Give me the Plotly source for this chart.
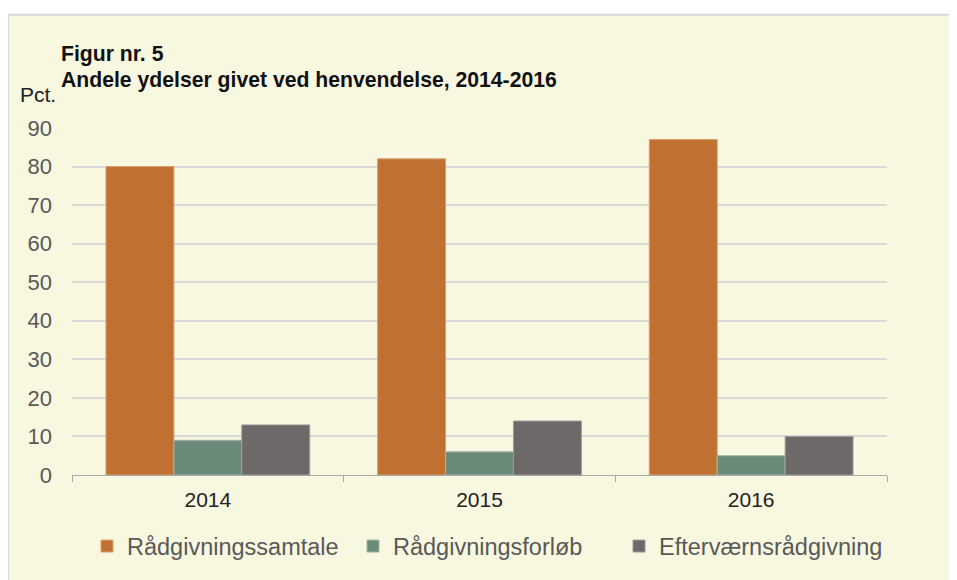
import plotly.graph_objects as go

years = ["2014", "2015", "2016"]
series_names = ["Rådgivningssamtale", "Rådgivningsforløb", "Efterværnsrådgivning"]
samtale = [80, 82, 87]
forloeb = [9, 6, 5]
eftervaern = [13, 14, 10]
y_ticks = [0, 10, 20, 30, 40, 50, 60, 70, 80, 90]

colors = ["#C07030", "#6B8A78", "#6D6969"]
edge = ["#D9A070", "#A0B4A8", "#A09C9C"]

OFF = 8  # page body margin
SW, SH = 957, 580
W, H = SW - OFF, SH - OFF
# plot area in screen pixels
PX0, PX1, PY0, PY1 = 72, 887, 127.5, 478
L, R, T, B = PX0 - OFF, SW - PX1, PY0 - OFF, SH - PY1
pw, ph = PX1 - PX0, PY1 - PY0

def px_x(x):
    return (x - PX0) / pw

def px_y(y):
    return (PY1 - y) / ph

fig = go.Figure()
for name, vals, c, e in zip(series_names, [samtale, forloeb, eftervaern], colors, edge):
    fig.add_trace(go.Bar(x=years, y=vals, name=name,
                         marker=dict(color=c, line=dict(color=e, width=1))))

fig.update_layout(
    width=W, height=H,
    margin=dict(l=L, r=R, t=T, b=B),
    paper_bgcolor="white",
    plot_bgcolor="rgba(0,0,0,0)",
    barmode="group", bargap=0.25, bargroupgap=0,
    font=dict(family="Liberation Sans, Arial, sans-serif", color="#595959"),
    showlegend=True,
    legend=dict(orientation="h", x=px_x(486), xanchor="center", y=px_y(550), yanchor="middle",
                font=dict(size=23.5, color="#595959"), bgcolor="rgba(0,0,0,0)",
                itemwidth=30, traceorder="normal", entrywidth=221, entrywidthmode="pixels"),
    xaxis=dict(type="category", tickson="boundaries", ticks="outside", ticklen=6,
               tickcolor="#A6A6A6", showline=True, linecolor="#A6A6A6", linewidth=1,
               tickfont=dict(size=21, color="#222222"), showgrid=False,
               ticklabelstandoff=6),
    yaxis=dict(range=[0, 90], tickvals=y_ticks, showgrid=True, gridcolor="#D9D9D9",
               gridwidth=1.5, zeroline=False, showline=False, ticks="",
               tickfont=dict(size=22, color="#595959"), ticklabelstandoff=19),
    shapes=[dict(type="rect", xref="paper", yref="paper", layer="below",
                 x0=px_x(8), x1=px_x(1000), y0=px_y(620), y1=px_y(13),
                 fillcolor="#F8F7E0", line=dict(color="#D9D9D9", width=2))],
    annotations=[
        dict(text="<b>Figur nr. 5</b>", xref="paper", yref="paper", x=px_x(59), y=px_y(53),
             xanchor="left", yanchor="middle", showarrow=False,
             font=dict(size=21.2, color="#111111")),
        dict(text="<b>Andele ydelser givet ved henvendelse, 2014-2016</b>", xref="paper", yref="paper",
             x=px_x(59), y=px_y(79), xanchor="left", yanchor="middle", showarrow=False,
             font=dict(size=21.2, color="#111111")),
        dict(text="Pct.", xref="paper", yref="paper", x=px_x(18), y=px_y(94),
             xanchor="left", yanchor="middle", showarrow=False,
             font=dict(size=21, color="#222222")),
    ],
)

fig.write_html("out.html")
